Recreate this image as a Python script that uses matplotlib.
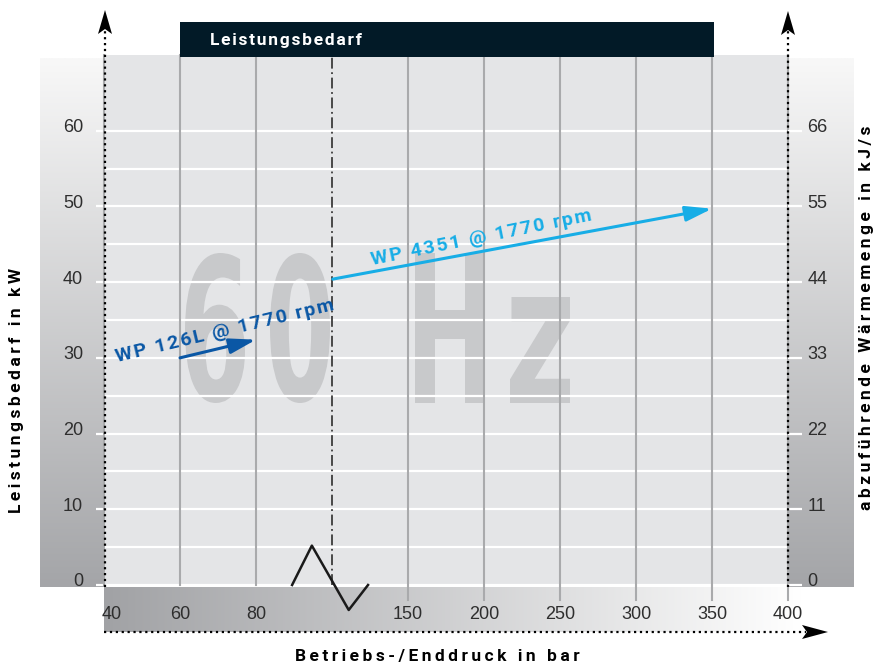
import numpy as np
import matplotlib
matplotlib.use("Agg")
import matplotlib.pyplot as plt
from matplotlib.colors import LinearSegmentedColormap
from matplotlib.font_manager import FontProperties
from matplotlib.lines import Line2D
from matplotlib.patches import Polygon, Rectangle, PathPatch
from matplotlib.textpath import TextPath
from matplotlib.transforms import Affine2D, ScaledTranslation

# data
x_ticks = [40, 60, 80, 150, 200, 250, 300, 350, 400]
y_left_ticks = [0, 10, 20, 30, 40, 50, 60]
y_right_ticks = [0, 11, 22, 33, 44, 55, 66]
break_x = 100

wp126_x = [60, 80]
wp126_y = [30.0, 32.4]
wp4351_x = [100.5, 350]
wp4351_y = [40.4, 49.7]

zigzag_x = [89.5, 94.7, 111, 123.7]
zigzag_y = [0, 5.2, -3.3, 0]

W, H = 879, 664
TICK_FONT = ["Liberation Sans Narrow", "Liberation Sans", "DejaVu Sans"]
BOLD_FONT = ["Roboto", "DejaVu Sans"]
DARK_BLUE = "#0a57a5"
LIGHT_BLUE = "#17ade6"


def fig_xy(x, y):
    """pixel position (from top-left) -> figure fraction"""
    return x / W, 1 - y / H


def spaced(s, gap="\u2009"):
    return gap.join(s)


def fwd(x):
    x = np.asarray(x, dtype=float)
    return np.where(x <= 100, (x - 40) / 20, 3 + (x - 100) / 50)


def inv(u):
    u = np.asarray(u, dtype=float)
    return np.where(u <= 3, 40 + 20 * u, 100 + 50 * (u - 3))


fig = plt.figure(figsize=(W / 100, H / 100), dpi=100)

# gradient side panels
grey_v = LinearSegmentedColormap.from_list("gv", ["#f8f8f8", "#a4a5a8"])
grey_h = LinearSegmentedColormap.from_list("gh", ["#a1a2a5", "#ffffff"])
grad = np.linspace(0, 1, 256).reshape(-1, 1)

for x0, x1 in [(40, 104), (788, 854)]:
    pax = fig.add_axes([x0 / W, 1 - 587 / H, (x1 - x0) / W, (587 - 58) / H], zorder=-1)
    pax.imshow(grad, aspect="auto", cmap=grey_v)
    pax.axis("off")

bax = fig.add_axes([104 / W, 1 - 632 / H, 698 / W, 45 / H], zorder=-1)
bax.imshow(grad.T, aspect="auto", cmap=grey_h)
bax.axis("off")

# main axes
ax = fig.add_axes([104 / W, 1 - 585 / H, 684 / W, 530 / H])
ax.set_facecolor("#e4e5e7")
ax.set_xscale("function", functions=(fwd, inv))
ax.set_xlim(40, 400)
ax.set_ylim(0, 70)
for s in ax.spines.values():
    s.set_visible(False)
ax.set_axisbelow(True)

ax.set_yticks(y_left_ticks)
ax.set_yticks(np.arange(5, 60, 10), minor=True)
ax.grid(axis="y", which="both", color="white", lw=1.6)
ax.tick_params(axis="y", which="major", color="white", width=1.6, length=6,
               pad=9, labelsize=13, labelcolor="#2e2e2e")
ax.tick_params(axis="y", which="minor", length=0)

ax.set_xticks(x_ticks)
ax.set_xticklabels([str(v) for v in x_ticks])
ax.xaxis.set_minor_locator(matplotlib.ticker.NullLocator())
ax.tick_params(axis="x", length=0, pad=15, labelsize=13, labelcolor="#2e2e2e")

up = ScaledTranslation(0, 5 / 100, fig.dpi_scale_trans)
for lab in ax.get_yticklabels():
    lab.set_family(TICK_FONT)
    lab.set_transform(lab.get_transform() + up)
for i, lab in enumerate(ax.get_xticklabels()):
    lab.set_family(TICK_FONT)
    if i == 0:
        lab.set_transform(lab.get_transform() + ScaledTranslation(8 / 100, 0, fig.dpi_scale_trans))

ax2 = ax.twinx()
ax2.set_ylim(0, 77)
ax2.set_yticks(y_right_ticks)
for s in ax2.spines.values():
    s.set_visible(False)
ax2.tick_params(axis="y", color="white", width=1.6, length=10, pad=4,
                labelsize=13, labelcolor="#2e2e2e")
for lab in ax2.get_yticklabels():
    lab.set_family(TICK_FONT)
    lab.set_transform(lab.get_transform() + up)

# vertical grid
for xv in x_ticks:
    ybot = 0 if xv < break_x else -2
    ax.plot([xv, xv], [ybot, 70], color="#a9aaac", lw=1.5, zorder=0.6, clip_on=False)
ax.plot([break_x, break_x], [0, 70], color="#3c3c3c", lw=1.3,
        dashes=[6, 2, 1, 2], zorder=0.7)

# watermark "60 Hz"
wm_prop = FontProperties(family="DejaVu Sans", weight="bold")
for ch, (x0, y0, x1, y1) in [("6", (185, 253, 245, 403)), ("0", (270, 253, 330, 403)),
                             ("H", (415, 253, 485, 403)), ("z", (510, 297, 570, 403))]:
    tp = TextPath((0, 0), ch, size=100, prop=wm_prop)
    ext = tp.get_extents()
    fx0, fy0 = fig_xy(x0, y1)
    fx1, fy1 = fig_xy(x1, y0)
    tr = (Affine2D().translate(-ext.x0, -ext.y0)
          .scale((fx1 - fx0) / ext.width, (fy1 - fy0) / ext.height)
          .translate(fx0, fy0) + fig.transFigure)
    ax.add_patch(PathPatch(tp, transform=tr, facecolor="#c8c9cb", edgecolor="none", zorder=0.3))

# series arrows
ax.annotate("", xy=(wp126_x[1], wp126_y[1]), xytext=(wp126_x[0], wp126_y[0]),
            arrowprops=dict(arrowstyle="-|>,head_length=0.8,head_width=0.23",
                            mutation_scale=20, color=DARK_BLUE, lw=2.2,
                            shrinkA=0, shrinkB=0), zorder=4)
ax.annotate("", xy=(wp4351_x[1], wp4351_y[1]), xytext=(wp4351_x[0], wp4351_y[0]),
            arrowprops=dict(arrowstyle="-|>,head_length=0.8,head_width=0.23",
                            mutation_scale=20, color=LIGHT_BLUE, lw=2.2,
                            shrinkA=0, shrinkB=0), zorder=4)
ax.text(43.4, 29.5, spaced("WP 126L @ 1770 rpm", "\u200a"), rotation=13.5,
        rotation_mode="anchor", ha="left", va="baseline", color=DARK_BLUE, fontsize=14,
        fontweight="bold", family=BOLD_FONT, zorder=5)
ax.text(126.3, 42.3, spaced("WP 4351 @ 1770 rpm", "\u200a"), rotation=11.5,
        rotation_mode="anchor", ha="left", va="baseline", color=LIGHT_BLUE, fontsize=14,
        fontweight="bold", family=BOLD_FONT, zorder=5)

# axis break zigzag
ax.plot(zigzag_x, zigzag_y, color="#1a1a1a", lw=1.8, clip_on=False, zorder=6)

# dotted axes with arrowheads
for (xa, ya), (xb, yb) in [((105, 587), (105, 30)), ((788, 587), (788, 30)),
                           ((104, 632), (806, 632))]:
    fig.add_artist(Line2D(*zip(fig_xy(xa, ya), fig_xy(xb, yb)), transform=fig.transFigure,
                          color="black", lw=1.6, linestyle=":"))
for pts in [[(105, 10), (98, 34), (105, 29), (112, 34)],
            [(788, 11), (781, 35), (788, 30), (795, 35)],
            [(828, 632), (802, 625), (807, 632), (802, 639)]]:
    fig.add_artist(Polygon([fig_xy(*p) for p in pts], closed=True, transform=fig.transFigure,
                           facecolor="black", edgecolor="none"))

# title bar
bx, by = fig_xy(180, 57)
fig.add_artist(Rectangle((bx, by), 534 / W, 35 / H, transform=fig.transFigure,
                         facecolor="#021a27", edgecolor="none"))
fig.text(*fig_xy(210, 40), spaced("Leistungsbedarf", "\u200a"), color="white",
         fontsize=12.5, fontweight="bold", family=BOLD_FONT, ha="left", va="center")

# axis titles
fig.text(*fig_xy(17, 390), spaced("Leistungsbedarf in kW"), rotation=90, ha="center",
         va="center", fontsize=12.5, fontweight="bold", family=BOLD_FONT)
fig.text(*fig_xy(437, 656), spaced("Betriebs-/Enddruck in bar"), ha="center",
         va="center", fontsize=12.5, fontweight="bold", family=BOLD_FONT)
fig.text(*fig_xy(867, 318), spaced("abzuführende Wärmemenge in kJ/s"), rotation=90,
         ha="center", va="center", fontsize=12.5, fontweight="bold", family=BOLD_FONT)

fig.savefig("out.png", dpi=100)
